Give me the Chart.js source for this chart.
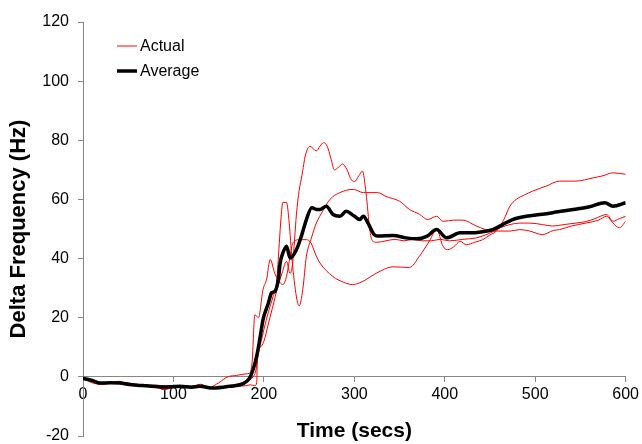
<!DOCTYPE html>
<html>
<head>
<meta charset="utf-8">
<script src="https://cdn.jsdelivr.net/npm/chart.js@4"></script>
<style>
  html, body { margin: 0; padding: 0; background: #fff; }
  #wrap { width: 642px; height: 444px; }
</style>
</head>
<body>
<div id="wrap"><canvas id="c" width="642" height="444"></canvas></div>
<script>
// ---- Data ----
const seriesLabels = ['Actual', 'Actual', 'Actual', 'Average'];

const actual1Time = [0,10,20,30,40,50,60,70,80,90,100,110,120,130,140,150,160,170,180,
  185,188,191,194,197,200,
  205,210,214,217,219,221,225,228,231,236,239,243,247,252,258,265,273,284,299,310,326,335,350,361,372,381,391,398,410,420,435,453,462,472,483,494,508,519,532,545,556,566,579,586,593,600];
const actual1Value = [0,-1.5,-2.5,-2.2,-2,-3,-3,-3.2,-3.5,-4,-3.6,-3.5,-3.8,-3.2,-4,-3.5,-3,-2.5,-2,
  -1,0,2,8,12,16,
  22,27,32,45,54,59,59,52,40,27,24,29.5,40.8,46.4,52,56,60,62.3,63.4,62.3,62.3,61,59.4,56.6,55,53.2,54.3,52.6,53,53,51,49.3,50.5,51.5,52,52,51.5,51,51.5,52,52.5,53.5,54.9,52.6,53.5,54.3];

const actual2Time = [0,10,20,30,40,50,60,70,80,90,100,110,120,130,140,150,160,170,180,
  185,190,192,193,196,200,205,210,215,220,225,229,232,236,239,242,246,251,258,262,266,270,274,278,283,287,292,296,300,305,309,313,317,320,325,335,345,355,365,375,385,395,405,420,435,445,457,472,483,494,508,520,527,540,556,570,579,586,593,600];
const actual2Value = [-0.5,-1,-2,-2.2,-1.8,-2,-3,-2.8,-3,-4.4,-3.5,-3.5,-3.2,-3,-3.8,-3.5,-3.5,-3.2,-3,
  -2.7,-3,-2,8,10,12,18,24,30,35,39,35,39,55,63,68,75,78,76.4,78,79.2,78,74,70,71,72,70,67,66,68,69.6,62,50,46,45.5,46,46.5,46,46.5,46,46,46.5,46,46.5,47,48,49.3,49.3,49.8,49.3,48.1,49.5,49.8,51,52,53,54.3,52,50.4,52.6];

const actual3Time = [0,10,20,30,40,50,60,70,80,90,100,110,120,130,140,150,160,170,180,
  184,187,190,194,199,203,207,212,218,221,225,229,232,240,247,252,258,262,276,288,298,306,313,324,343,361,372,383,391,398,403,410,417,424,433,442,450,457,465,472,479,488,497,512,527,545,564,575,586,600];
const actual3Value = [-0.5,-2,-2.5,-2,-1.5,-2.5,-2.5,-3,-2.8,-3,-3,-3,-3.2,-2.5,-3.5,-2,0,0.5,1,
  1.2,5,21,20,29.5,33,39.7,35,31.8,31.2,34,40.8,45.3,46.4,46.4,45.3,40.8,38.5,34,32,31.2,31.8,32.9,35,37.2,37,40.8,45.9,49.8,44.2,43,44,45.8,44.7,45.5,46.4,48,49.3,53,57.7,60,61.5,62.8,64.5,66.2,66.2,67.3,68,69,68.5];

const averageTime = [0,10,19,30,41,50,60,70,88,100,107,120,129,144,162,177,184,188,192,196,
  199,205,208.5,212,216,218,221,225,229,236,241.5,247,253,258,262,269,276.5,284,291,299,
  306,310,315,322,326,343,357,369,380,391,402,417,428,440,453,464,475,490,508,525,542,560,577,586,600];
const averageValue = [-0.5,-1.2,-2.1,-2,-2.1,-2.5,-2.8,-3,-3.4,-3.3,-3.2,-3.5,-3.2,-3.8,-3.2,-2.3,-0.5,2.4,6.9,13.7,
  19.3,25,28.4,28.9,32.9,38.5,41.9,44.2,40.2,43,47.6,53.2,57.2,56.6,56.6,57.7,54.9,54.3,56,54.6,
  53.2,54.3,52.1,48.1,47.6,47.8,47,46.7,47.5,49.8,47,48.7,48.7,49,49.8,51.5,53.2,54.3,55,55.8,56.6,57.5,58.9,57.7,58.9];

const xTickValues = [0,100,200,300,400,500,600];
const yTickValues = [-20,0,20,40,60,80,100,120];
const xTitle = 'Time (secs)';
const yTitle = 'Delta Frequency (Hz)';

// ---- Build ----
const FONT = "'Liberation Sans', Arial, Helvetica, sans-serif";
Chart.defaults.font.family = FONT;

function pts(t, v) { return t.map((x, i) => ({x: x, y: v[i]})); }

const RED = '#ff0000';
const redStyle = { borderColor: RED, borderWidth: 1, pointRadius: 0, fill: false,
  cubicInterpolationMode: 'monotone', order: 1 };

const datasets = [
  Object.assign({ label: seriesLabels[0], data: pts(actual1Time, actual1Value) }, redStyle),
  Object.assign({ label: seriesLabels[1], data: pts(actual2Time, actual2Value) }, redStyle),
  Object.assign({ label: seriesLabels[2], data: pts(actual3Time, actual3Value) }, redStyle),
  { label: seriesLabels[3], data: pts(averageTime, averageValue), borderColor: '#000000',
    borderWidth: 3.5, pointRadius: 0, fill: false, cubicInterpolationMode: 'monotone', order: 0 }
];

const insideLegend = {
  id: 'insideLegend',
  afterDraw(chart) {
    const ctx = chart.ctx;
    const area = chart.chartArea;
    const seen = new Set();
    let row = 0;
    ctx.save();
    chart.data.datasets.forEach(ds => {
      if (seen.has(ds.label)) return;
      seen.add(ds.label);
      const y = area.top + 24 + row * 25;
      const x0 = area.left + 34;
      ctx.beginPath();
      ctx.strokeStyle = ds.borderColor;
      ctx.lineWidth = ds.borderWidth;
      ctx.moveTo(x0, y);
      ctx.lineTo(x0 + 20, y);
      ctx.stroke();
      ctx.fillStyle = '#000';
      ctx.font = '16px ' + FONT;
      ctx.textBaseline = 'middle';
      ctx.textAlign = 'left';
      ctx.fillText(ds.label, x0 + 23, y + 1);
      row++;
    });
    ctx.restore();
  }
};

const AXIS = '#868686';

new Chart(document.getElementById('c'), {
  type: 'line',
  data: { datasets: datasets },
  options: {
    responsive: false,
    animation: false,
    layout: { padding: { left: 1, top: 22, right: 0, bottom: 8 } },
    plugins: { legend: { display: false }, tooltip: { enabled: false } },
    scales: {
      x: {
        type: 'linear', min: 0, max: 600,
        position: { y: 0 },
        afterBuildTicks: s => { s.ticks = xTickValues.map(v => ({ value: v })); },
        ticks: { color: '#000', font: { size: 16 }, padding: 3 },
        grid: { drawOnChartArea: false, drawTicks: true, tickLength: 5, color: AXIS },
        border: { display: true, color: AXIS, width: 1 },
        title: { display: true, text: xTitle, color: '#000',
          font: { size: 21, weight: 'bold' }, padding: { top: 12, bottom: 0 } }
      },
      y: {
        type: 'linear', min: -20, max: 120,
        afterBuildTicks: s => { s.ticks = yTickValues.map(v => ({ value: v })); },
        afterFit: s => { s.width = 82; s.paddingTop = 0; s.paddingBottom = 0; },
        ticks: { color: '#000', font: { size: 16 }, padding: 9 },
        grid: { drawOnChartArea: false, drawTicks: true, tickLength: 5, color: AXIS },
        border: { display: true, color: AXIS, width: 1 },
        title: { display: true, text: yTitle, color: '#000',
          font: { size: 22, weight: 'bold' }, padding: { top: 5, bottom: 0 } }
      }
    }
  },
  plugins: [insideLegend]
});
</script>
</body>
</html>
